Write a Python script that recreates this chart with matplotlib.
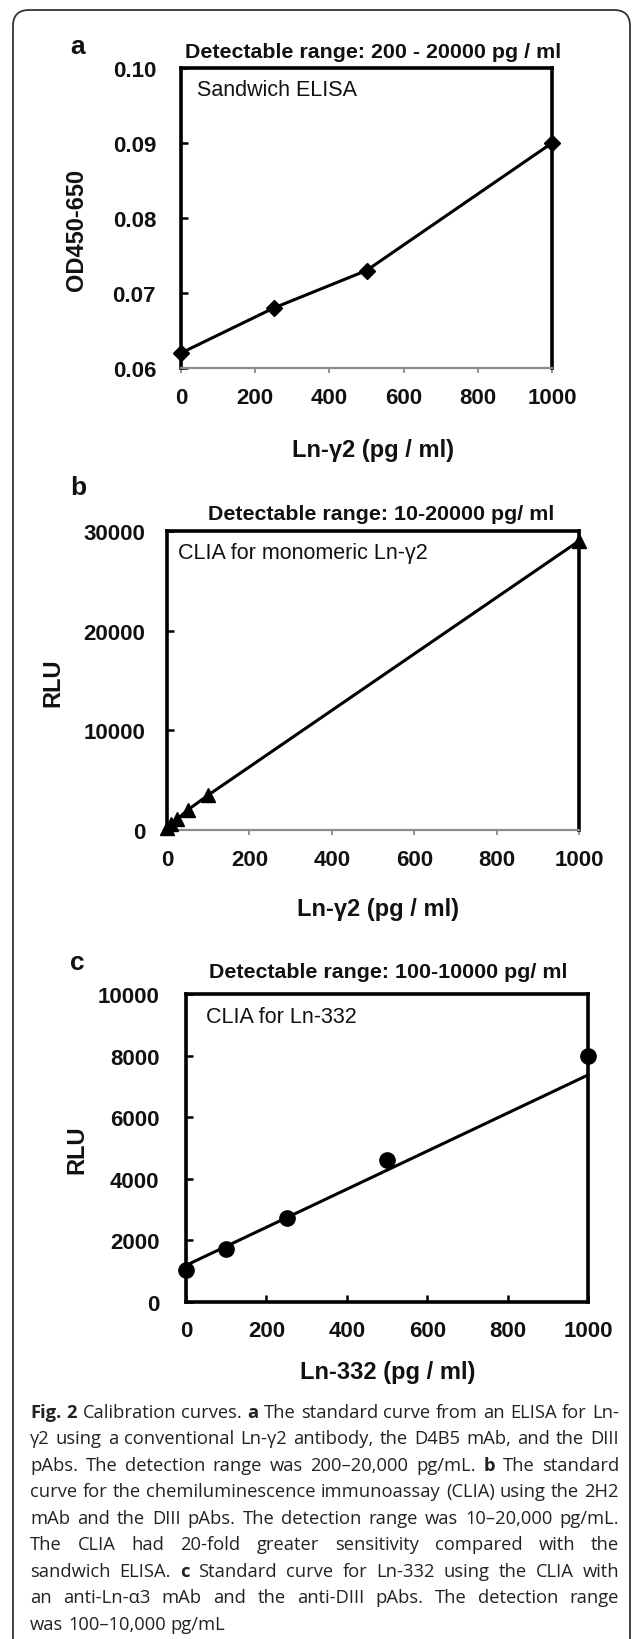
import re
import matplotlib
matplotlib.use("Agg")
import matplotlib.pyplot as plt
from matplotlib.patches import FancyBboxPatch
from matplotlib import font_manager

# ---------------- data ----------------
x_ticks = [0, 200, 400, 600, 800, 1000]

a_conc = [0, 250, 500, 1000]
a_od = [0.062, 0.068, 0.073, 0.090]
a_yticks = [0.06, 0.07, 0.08, 0.09, 0.10]
a_ylabels = ["0.06", "0.07", "0.08", "0.09", "0.10"]

b_conc = [0, 10, 25, 50, 100, 1000]
b_rlu = [200, 600, 1100, 2000, 3500, 29000]
b_yticks = [0, 10000, 20000, 30000]

c_conc = [0, 100, 250, 500, 1000]
c_rlu = [1050, 1730, 2730, 4620, 7980]
c_fit_conc = [0, 1000]
c_fit_rlu = [1190, 7370]
c_yticks = [0, 2000, 4000, 6000, 8000, 10000]

panel_letters = ["a", "b", "c"]
titles = ["Detectable range: 200 - 20000 pg / ml",
          "Detectable range: 10-20000 pg/ ml",
          "Detectable range: 100-10000 pg/ ml"]
inner_texts = ["Sandwich ELISA", "CLIA for monomeric Ln-\u03b32", "CLIA for Ln-332"]
xlabels = ["Ln-\u03b32 (pg / ml)", "Ln-\u03b32 (pg / ml)", "Ln-332 (pg / ml)"]
ylabels = ["OD450-650", "RLU", "RLU"]

caption_lines = [
    "**Fig. 2** Calibration curves. **a** The standard curve from an ELISA for Ln-",
    "\u03b32 using a conventional Ln-\u03b32 antibody, the D4B5 mAb, and the DIII",
    "pAbs. The detection range was 200\u201320,000 pg/mL. **b** The standard",
    "curve for the chemiluminescence immunoassay (CLIA) using the 2H2",
    "mAb and the DIII pAbs. The detection range was 10\u201320,000 pg/mL.",
    "The CLIA had 20-fold greater sensitivity compared with the",
    "sandwich ELISA. **c** Standard curve for Ln-332 using the CLIA with",
    "an anti-Ln-\u03b13 mAb and the anti-DIII pAbs. The detection range",
    "was 100\u201310,000 pg/mL",
]

# ---------------- figure ----------------
W, H = 633, 1640
fig = plt.figure(figsize=(W / 100, H / 100), dpi=100)

names = {f.name for f in font_manager.fontManager.ttflist}
SANS = "Liberation Sans" if "Liberation Sans" in names else "DejaVu Sans"
CAPF = "Open Sans" if "Open Sans" in names else SANS
CAP_FAM_LIST = [CAPF, "DejaVu Sans"]

bg = fig.add_axes([0, 0, 1, 1], zorder=-5)
bg.set_xlim(0, W)
bg.set_ylim(H, 0)
bg.axis("off")

frame = FancyBboxPatch((13, 11), 617, 1700,
                       boxstyle="round,pad=0,rounding_size=16",
                       fc="white", ec="#333333", lw=1.3)
bg.add_patch(frame)


def make_axes(l, t, r, b):
    ax = fig.add_axes([l / W, 1 - b / H, (r - l) / W, (b - t) / H])
    ax.set_facecolor("none")
    return ax


boxes = [(181, 69, 552, 369), (167, 532, 579, 831), (186, 995, 588, 1303)]
letter_pos = [(70, 47), (70, 488), (70, 963)]
title_pos = [(373, 52), (381, 515), (388, 973)]
xlabel_pos = [(373, 450), (378, 910), (388, 1373)]
ylabel_pos = [(77, 230), (53, 683), (77, 1150)]
inner_pos = [(197, 90), (178, 554), (206, 1018)]
ytick_pads = [18, 15.5, 19]

axes = [make_axes(*bx) for bx in boxes]

BLACK_LW = 2.6
TICK_FS = 16
for i, ax in enumerate(axes):
    ax.set_xlim(0, 1000)
    ax.set_xticks(x_ticks)
    ax.set_xticklabels([str(v) for v in x_ticks])
    for s in ["left", "top", "right"]:
        ax.spines[s].set_linewidth(BLACK_LW)
        ax.spines[s].set_color("black")
    if i < 2:
        ax.spines["bottom"].set_linewidth(1.6)
        ax.spines["bottom"].set_color("#8c8c8c")
        ax.tick_params(axis="x", direction="out", length=3.5, width=1.3,
                       color="#8c8c8c", pad=10)
    else:
        ax.spines["bottom"].set_linewidth(BLACK_LW)
        ax.spines["bottom"].set_color("black")
        ax.tick_params(axis="x", direction="in", length=5, width=1.8,
                       color="black", pad=13)
    ax.tick_params(axis="y", direction="in", length=5, width=1.8,
                   color="black", pad=ytick_pads[i])

# panel a
ax = axes[0]
ax.set_ylim(0.06, 0.10)
ax.set_yticks(a_yticks)
ax.set_yticklabels(a_ylabels)
ax.plot(a_conc, a_od, color="black", lw=2.2, marker="D", ms=8.5,
        clip_on=False, zorder=5)

# panel b
ax = axes[1]
ax.set_ylim(0, 30000)
ax.set_yticks(b_yticks)
ax.set_yticklabels([str(v) for v in b_yticks])
ax.plot(b_conc, b_rlu, color="black", lw=2.2, marker="^", ms=10.5,
        clip_on=False, zorder=5)

# panel c
ax = axes[2]
ax.set_ylim(0, 10000)
ax.set_yticks(c_yticks)
ax.set_yticklabels([str(v) for v in c_yticks])
ax.plot(c_fit_conc, c_fit_rlu, color="black", lw=2.2, clip_on=False, zorder=4)
ax.plot(c_conc, c_rlu, ls="none", color="black", marker="o", ms=11,
        clip_on=False, zorder=5)

for ax in axes:
    for lab in ax.get_xticklabels() + ax.get_yticklabels():
        lab.set_fontfamily(SANS)
        lab.set_fontweight("bold")
        lab.set_fontsize(TICK_FS)
        lab.set_color("#111111")

# free texts in pixel coordinates
for i in range(3):
    bg.text(*letter_pos[i], panel_letters[i], fontfamily=SANS, fontweight="bold",
            fontsize=19, ha="left", va="center", color="#111111")
    bg.text(*title_pos[i], titles[i], fontfamily=SANS, fontweight="bold",
            fontsize=15.4, ha="center", va="center", color="#111111")
    bg.text(*xlabel_pos[i], xlabels[i], fontfamily=SANS, fontweight="bold",
            fontsize=17, ha="center", va="center", color="#111111")
    bg.text(*ylabel_pos[i], ylabels[i], fontfamily=SANS, fontweight="bold",
            fontsize=17, ha="center", va="center", rotation=90, color="#111111")
    bg.text(*inner_pos[i], inner_texts[i], fontfamily=SANS,
            fontsize=15.5, ha="left", va="center", color="#111111")

# ---------------- caption (justified) ----------------
CAP_FS = 13.2
fig.canvas.draw()
renderer = fig.canvas.get_renderer()


def measure(s, bold):
    t = fig.text(0, 0, s, fontsize=CAP_FS, fontfamily=CAP_FAM_LIST,
                 fontweight="bold" if bold else "normal")
    w = t.get_window_extent(renderer).width
    t.remove()
    return w


space_w = measure("a a", False) - measure("aa", False)

x_left, x_right = 30, 619
y0, dy = 1418, 26.5
for li, line in enumerate(caption_lines):
    words = []
    for seg in re.split(r"(\*\*.*?\*\*)", line):
        if not seg:
            continue
        bold = seg.startswith("**")
        for w in seg.strip("*").split():
            words.append((w, bold))
    widths = [measure(w, b) for w, b in words]
    if li < len(caption_lines) - 1 and len(words) > 1:
        gap = (x_right - x_left - sum(widths)) / (len(words) - 1)
    else:
        gap = space_w
    x = x_left
    for (w, b), wd in zip(words, widths):
        bg.text(x, y0 + li * dy, w, fontsize=CAP_FS, fontfamily=CAP_FAM_LIST,
                fontweight="bold" if b else "normal", color="#222222",
                ha="left", va="baseline")
        x += wd + gap

fig.savefig("out.png", dpi=100)
